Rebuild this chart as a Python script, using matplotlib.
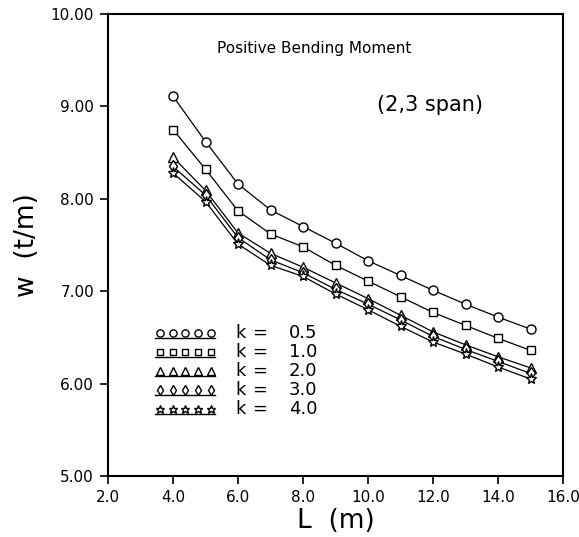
import matplotlib
matplotlib.use("Agg")
import matplotlib.pyplot as plt
from matplotlib.ticker import FormatStrFormatter

# span length L (m)
span = [4, 5, 6, 7, 8, 9, 10, 11, 12, 13, 14, 15]

# load w (t/m) for each k
w_k05 = [9.11, 8.62, 8.16, 7.88, 7.70, 7.52, 7.33, 7.17, 7.01, 6.86, 6.72, 6.59]
w_k10 = [8.75, 8.32, 7.87, 7.62, 7.48, 7.28, 7.11, 6.94, 6.77, 6.63, 6.49, 6.36]
w_k20 = [8.45, 8.09, 7.63, 7.41, 7.26, 7.09, 6.92, 6.74, 6.56, 6.42, 6.29, 6.17]
w_k30 = [8.35, 8.04, 7.58, 7.34, 7.20, 7.02, 6.86, 6.69, 6.51, 6.37, 6.24, 6.11]
w_k40 = [8.28, 7.97, 7.51, 7.28, 7.16, 6.97, 6.80, 6.62, 6.45, 6.32, 6.18, 6.05]

k_labels = ["0.5", "1.0", "2.0", "3.0", "4.0"]
series = [w_k05, w_k10, w_k20, w_k30, w_k40]
markers = ["o", "s", "^", "d", "*"]
msizes = [6.5, 5.5, 6.5, 6.5, 8]

x_ticks = [2, 4, 6, 8, 10, 12, 14, 16]
y_ticks = [5, 6, 7, 8, 9, 10]

fig = plt.figure(figsize=(5.79, 5.37), dpi=100)
ax = fig.add_axes([108 / 579, 1 - 476 / 537, 455 / 579, 462 / 537])

for w, m, ms in zip(series, markers, msizes):
  ax.plot(span, w, "-", color="black", lw=0.9, marker=m, ms=ms,
          mfc="white", mec="black", mew=1.0)

ax.set_xlim(2, 16)
ax.set_ylim(5, 10)
ax.set_xticks(x_ticks)
ax.set_yticks(y_ticks)
ax.xaxis.set_major_formatter(FormatStrFormatter("%.1f"))
ax.yaxis.set_major_formatter(FormatStrFormatter("%.2f"))
ax.tick_params(direction="out", length=6, width=1.2, labelsize=11, pad=4)
for s in ax.spines.values():
  s.set_linewidth(1.5)

ax.set_xlabel("L  (m)", fontsize=19, labelpad=2)
ax.set_ylabel("w  (t/m)", fontsize=19, labelpad=8)

ax.text(0.453, 0.926, "Positive Bending Moment", transform=ax.transAxes,
        ha="center", va="center", fontsize=11)
ax.text(0.708, 0.803, "(2,3 span)", transform=ax.transAxes,
        ha="center", va="center", fontsize=15)

# hand-drawn style legend: five markers sitting on an underline
row_y = [0.310, 0.269, 0.228, 0.187, 0.146]
mx = [0.114 + i * 0.028 for i in range(5)]
for y, m, ms, lab in zip(row_y, markers, msizes, k_labels):
  ax.plot(mx, [y] * 5, linestyle="none", marker=m, ms=ms * 0.8,
          mfc="white", mec="black", mew=1.0, transform=ax.transAxes, clip_on=False)
  ax.plot([0.104, 0.236], [y - 0.011] * 2, "-", color="black", lw=1.0,
          transform=ax.transAxes)
  ax.text(0.292, y, "k", transform=ax.transAxes, ha="center", va="center", fontsize=13)
  ax.text(0.333, y, "=", transform=ax.transAxes, ha="center", va="center", fontsize=13)
  ax.text(0.397, y, lab, transform=ax.transAxes, ha="left", va="center", fontsize=13)

fig.savefig("out.png", dpi=100)
